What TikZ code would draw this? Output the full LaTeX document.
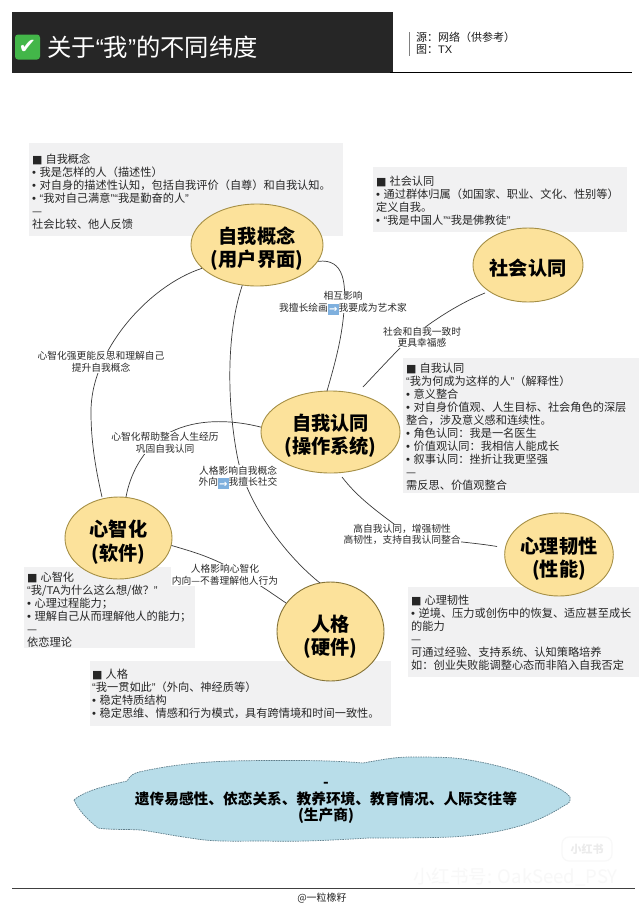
\documentclass[tikz,border=0pt]{standalone}
\usepackage{fontspec}
\setmainfont{Noto Sans CJK SC}
\newfontfamily\latinfont{Liberation Sans}
\newfontfamily\symfont{DejaVu Sans}
\usetikzlibrary{shapes.geometric}
\definecolor{nodefill}{HTML}{FCE29B}
\definecolor{nodeedge}{HTML}{A58F45}
\definecolor{boxfill}{HTML}{F1F1F2}
\definecolor{cloudfill}{HTML}{B8DDE9}
\definecolor{cloudedge}{HTML}{5F7F8C}
\definecolor{headbg}{HTML}{262626}
\definecolor{linkc}{HTML}{3A3A3A}
\definecolor{labelc}{HTML}{2A2A2A}
\definecolor{arrowbg}{HTML}{7FB0DE}
\definecolor{markc}{HTML}{F8F8F8}
\definecolor{checkc}{HTML}{43B649}
\newcommand{\LQ}{{\latinfont “}}
\newcommand{\RQ}{{\latinfont ”}}
\newcommand{\BUL}{{\latinfont •}\hspace{3.5pt}}
\newcommand{\HD}{{\symfont\fontsize{11}{13}\selectfont ■}\hspace{3pt}}
\newcommand{\ARW}{\raisebox{-1.5pt}[7pt][0pt]{\setlength{\fboxsep}{0.6pt}\colorbox{arrowbg}{\rule[-1pt]{0pt}{9.5pt}\makebox[9.5pt]{\color{white}\symfont\bfseries\fontsize{10}{10}\selectfont →}}}}
\newcommand{\CT}[2][-10.5pt]{\raisebox{#1}[0pt][0pt]{\begin{tabular}{@{}c@{}}#2\end{tabular}}}
\tikzset{
  concept/.style={ellipse,draw=nodeedge,fill=nodefill,line width=0.9pt,inner sep=0pt,align=center,font=\fontsize{19.2}{23}\selectfont\bfseries},
  infobox/.style={fill=boxfill,draw=none,anchor=north west,inner sep=0pt},
  infotext/.style={anchor=north west,inner sep=0pt,align=left,font=\fontsize{11.2}{13}\selectfont,text=black!85},
  linkline/.style={draw=linkc,line width=0.7pt},
  linklabel/.style={fill=white,inner sep=0.5pt,align=center,font=\fontsize{9.75}{11.5}\selectfont,text=labelc},
}
\begin{document}
\begin{tikzpicture}[x=1pt,y=-1pt]
\useasboundingbox (0,0) rectangle (639,905);
\fill[white] (0,0) rectangle (639,905);
% header
\node[fill=headbg,minimum width=381pt,minimum height=61pt,inner sep=0pt,anchor=north west] (head) at (12,12) {};
\node[fill=checkc,rounded corners=3pt,minimum width=25pt,minimum height=25pt,inner sep=0pt,text=white,font=\symfont\fontsize{21}{21}\selectfont] (check) at (27.5,47) {✔};
\node[anchor=west,inner sep=0pt,text=white,font=\fontsize{24.3}{26}\selectfont] (title) at (47,47) {关于\LQ 我\RQ 的不同纬度};
\coordinate (ruleA) at (390,72.5);
\coordinate (ruleB) at (632,72.5);
\draw[black,line width=1pt] (ruleA) -- (ruleB);
\coordinate (barA) at (409.5,32);
\coordinate (barB) at (409.5,56);
\draw[black!50,line width=0.5pt] (barA) -- (barB);
\node[anchor=west,inner sep=0pt,font=\fontsize{11}{13}\selectfont,text=black!90] (src) at (416,37) {源：网络（供参考）};
\node[anchor=west,inner sep=0pt,font=\fontsize{11}{13}\selectfont,text=black!90] (fig) at (416,50) {图：{\latinfont TX}};
% info boxes
\node[infobox,minimum width=314pt,minimum height=93pt] (boxA) at (29,143) {};
\node[infobox,minimum width=254pt,minimum height=65pt] (boxB) at (373,167) {};
\node[infobox,minimum width=236pt,minimum height=135pt] (boxC) at (403,358) {};
\node[infobox,minimum width=231pt,minimum height=90pt] (boxD) at (408,587) {};
\node[infobox,minimum width=171pt,minimum height=81pt] (boxE) at (24,567) {};
\node[infobox,minimum width=301pt,minimum height=65pt] (boxF) at (90,661) {};
\node[infotext] (tA) at (32,153.5) {\HD 自我概念\\\BUL 我是怎样的人（描述性）\\\BUL 对自身的描述性认知，包括自我评价（自尊）和自我认知。\\\BUL\LQ 我对自己满意\RQ\LQ 我是勤奋的人\RQ\\—\\社会比较、他人反馈};
\node[infotext] (tB) at (376,176) {\HD 社会认同\\\BUL 通过群体归属（如国家、职业、文化、性别等）\\定义自我。\\\BUL\LQ 我是中国人\RQ\LQ 我是佛教徒\RQ};
\node[infotext] (tC) at (406,363) {\HD 自我认同\\\LQ 我为何成为这样的人\RQ（解释性）\\\BUL 意义整合\\\BUL 对自身价值观、人生目标、社会角色的深层\\整合，涉及意义感和连续性。\\\BUL 角色认同：我是一名医生\\\BUL 价值观认同：我相信人能成长\\\BUL 叙事认同：挫折让我更坚强\\—\\需反思、价值观整合};
\node[infotext] (tD) at (411,595) {\HD 心理韧性\\\BUL 逆境、压力或创伤中的恢复、适应甚至成长\\的能力\\—\\可通过经验、支持系统、认知策略培养\\如：创业失败能调整心态而非陷入自我否定};
\node[infotext] (tE) at (27,571.5) {\HD 心智化\\\LQ 我/{\latinfont TA}为什么这么想/做？\RQ\\\BUL 心理过程能力；\\\BUL 理解自己从而理解他人的能力；\\—\\依恋理论};
\node[infotext] (tF) at (92,669) {\HD 人格\\\LQ 我一贯如此\RQ（外向、神经质等）\\\BUL 稳定特质结构\\\BUL 稳定思维、情感和行为模式，具有跨情境和时间一致性。};
% concepts
\node[concept,minimum width=132pt,minimum height=82pt] (self) at (257,245) {\CT[-10.5pt]{自我概念\\(用户界面)}};
\node[concept,minimum width=110pt,minimum height=74pt] (social) at (528,265) {\CT[-10.5pt]{社会认同}};
\node[concept,minimum width=139pt,minimum height=82pt] (ident) at (330.5,432) {\CT[-10.5pt]{自我认同\\(操作系统)}};
\node[concept,minimum width=106pt,minimum height=83pt] (resil) at (559,554.5) {\CT[-11pt]{心理韧性\\(性能)}};
\node[concept,minimum width=107pt,minimum height=82pt] (ment) at (118.5,538) {\CT[-11pt]{心智化\\(软件)}};
\node[concept,minimum width=107pt,minimum height=99pt,draw=nodeedge!80!black] (pers) at (330.5,631.5) {\CT[-12pt]{人格\\(硬件)}};
% free ends
\coordinate (socialEnd) at (485,293);
\coordinate (identTop) at (363,387);
\coordinate (identLow) at (342,477);
\coordinate (resilEnd) at (497,546.5);
% connectors
\draw[linkline] (self.203) .. controls (150,285) and (90,350) .. (91,413) .. controls (91,445) and (97,475) .. (102,497);
\draw[linkline] (self.250) .. controls (227,330) and (226,400) .. (238,460) .. controls (248,505) and (285,555) .. (320,583);
\draw[linkline] (self.345) .. controls (345,258) and (346,285) .. (344,310) .. controls (342,340) and (333,370) .. (327,391);
\draw[linkline] (identTop) .. controls (378,371) and (392,356) .. (405,343) .. controls (425,326) and (455,305) .. (socialEnd);
\draw[linkline] (ident.176) .. controls (225,418) and (190,420) .. (165,435) .. controls (142,450) and (130,475) .. (126,497);
\draw[linkline] (identLow) .. controls (358,498) and (378,512) .. (402,530) .. controls (420,540) and (465,541) .. (resilEnd);
\draw[linkline] (ment.-8) .. controls (190,551) and (205,555) .. (225,565) .. controls (250,578) and (270,592) .. (286,603);
% labels
\node[linklabel] (l1) at (101,362) {心智化强更能反思和理解自己\\提升自我概念};
\node[linklabel] (l2) at (238,476) {人格影响自我概念\\外向\ARW 我擅长社交};
\node[linklabel] (l3) at (343,302) {相互影响\\我擅长绘画\ARW 我要成为艺术家};
\node[linklabel] (l4) at (422,337.5) {社会和自我一致时\\更具幸福感};
\node[linklabel] (l5) at (165,443) {心智化帮助整合人生经历\\巩固自我认同};
\node[linklabel] (l6) at (402,534.5) {高自我认同，增强韧性\\高韧性，支持自我认同整合};
\node[linklabel] (l7) at (225,575) {人格影响心智化\\内向—不善理解他人行为};
% cloud
\draw[fill=cloudfill,draw=cloudedge,line width=0.7pt,dash pattern=on 1.6pt off 0.9pt] (74,800)
 .. controls (85,790) and (110,785) .. (127,781)
 .. controls (130,775) and (135,773) .. (139,772)
 .. controls (170,765) and (200,762) .. (230,761)
 .. controls (280,760) and (330,760) .. (363,763)
 .. controls (380,760) and (395,757) .. (410,757)
 .. controls (430,757) and (450,757) .. (463,759)
 .. controls (490,763) and (515,770) .. (533,777)
 .. controls (550,784) and (565,790) .. (570,797)
 .. controls (571,802) and (568,804) .. (565,805)
 .. controls (550,815) and (532,823) .. (516,827)
 .. controls (495,833) and (470,836) .. (451,837)
 .. controls (425,838) and (395,838) .. (369,838)
 .. controls (335,840) and (300,842) .. (266,841)
 .. controls (240,841) and (215,842) .. (197,839)
 .. controls (175,836) and (155,832) .. (141,830)
 .. controls (125,829) and (110,830) .. (98,828)
 .. controls (88,820) and (78,810) .. (74,800) -- cycle;
\node[inner sep=0pt,align=center,font=\fontsize{14.7}{16.7}\selectfont\bfseries] (cloudtext) at (326,803) {-\\遗传易感性、依恋关系、教养环境、教育情况、人际交往等\\(生产商)};
% footer
\coordinate (footA) at (12,888);
\coordinate (footB) at (635,888);
\draw[black!75,line width=0.8pt] (footA) -- (footB);
\node[inner sep=0pt,font=\fontsize{10}{12}\selectfont,text=black!85] (foot) at (322,898.5) {@一粒橡籽};
% watermark
\node[draw=markc,fill=white,rounded corners=7pt,line width=1.2pt,minimum width=50pt,minimum height=24pt,inner sep=0pt,text=black!8,font=\fontsize{11}{12}\selectfont\bfseries] (logo) at (587,849) {小红书};
\node[inner sep=0pt,text=markc,font=\fontsize{18.5}{20}\selectfont] (mark) at (515.5,877) {小红书号: OakSeed\_PSY};
\end{tikzpicture}
\end{document}
